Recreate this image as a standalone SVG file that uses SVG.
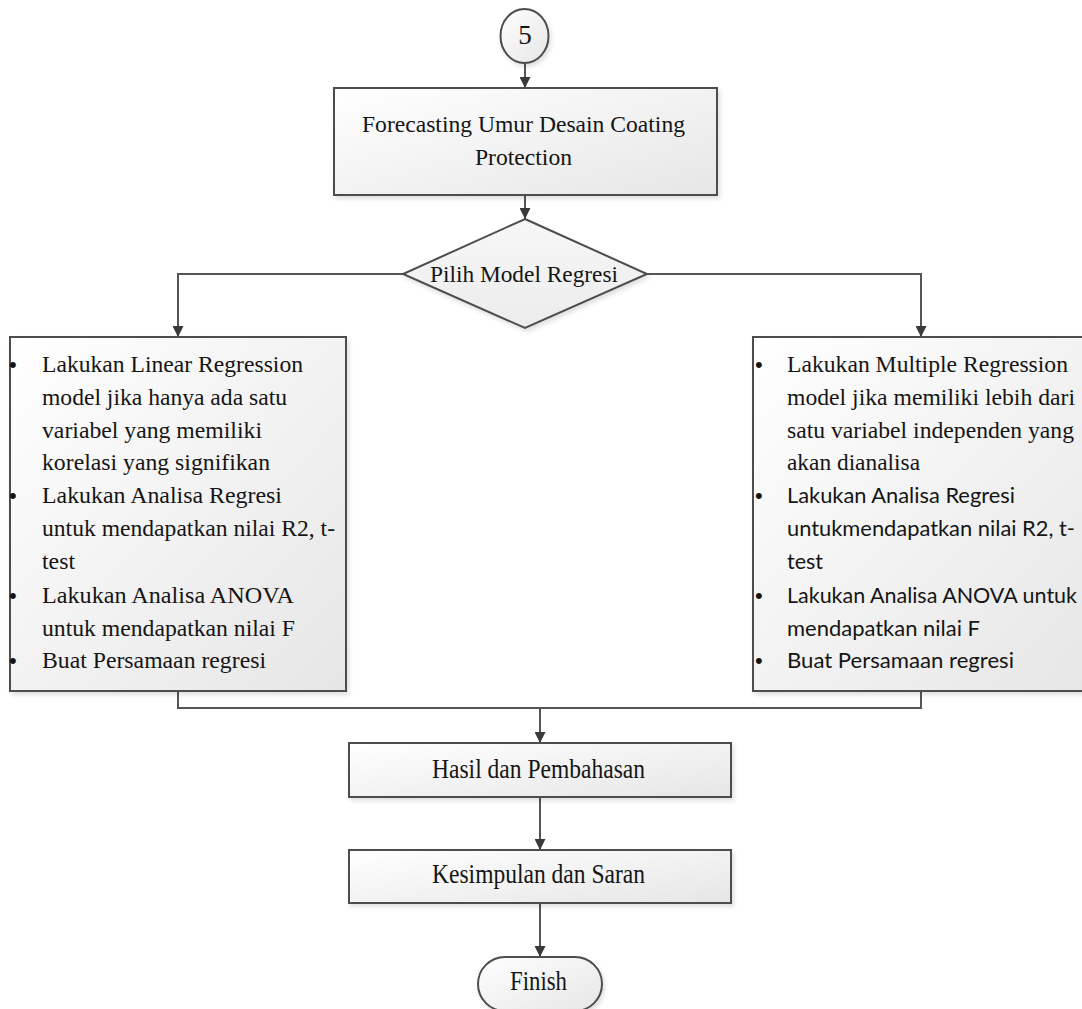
<svg xmlns="http://www.w3.org/2000/svg" width="1082" height="1009" viewBox="0 0 1082 1009">
<style>
.shape{stroke:#4d4d4d;stroke-width:2;fill:url(#g)}
.conn{stroke:#555;stroke-width:2;fill:none}
.tr{font-family:"Liberation Serif","Times New Roman",serif;font-size:24px;fill:#151515}
.big{font-family:"Liberation Serif","Times New Roman",serif;font-size:27px;fill:#151515}
.sans{font-family:Lato,"Open Sans","Liberation Sans",sans-serif;font-size:21px;fill:#151515}
.bul{font-family:"Liberation Sans",Arial,sans-serif;font-size:22px;fill:#151515}
</style>
<defs>
<linearGradient id="g" x1="0" y1="0" x2="1" y2="1">
<stop offset="0" stop-color="#ffffff"/>
<stop offset="1" stop-color="#e6e6e6"/>
</linearGradient>
<linearGradient id="gd" x1="0" y1="0" x2="0" y2="1">
<stop offset="0" stop-color="#f7f7f7"/>
<stop offset="1" stop-color="#ececec"/>
</linearGradient>
<filter id="sh" x="-10%" y="-10%" width="130%" height="130%">
<feDropShadow dx="2" dy="3" stdDeviation="2" flood-color="#000" flood-opacity="0.12"/>
</filter>
<marker id="arr" viewBox="0 0 10 10" refX="10" refY="5" markerWidth="11" markerHeight="11" markerUnits="userSpaceOnUse" orient="auto">
<path d="M0,0 L10,5 L0,10 z" fill="#3a3a3a"/>
</marker>
</defs>

<g id="connectors">
<line class="conn" x1="525" y1="63" x2="525" y2="88" marker-end="url(#arr)"/>
<line class="conn" x1="525" y1="195" x2="525" y2="219" marker-end="url(#arr)"/>
<polyline class="conn" points="403,274 178,274 178,337" marker-end="url(#arr)"/>
<polyline class="conn" points="647,274 921,274 921,337" marker-end="url(#arr)"/>
<polyline class="conn" points="178,691 178,708 921,708 921,691"/>
<line class="conn" x1="540" y1="708" x2="540" y2="743" marker-end="url(#arr)"/>
<line class="conn" x1="540" y1="797" x2="540" y2="850" marker-end="url(#arr)"/>
<line class="conn" x1="540" y1="903" x2="540" y2="957" marker-end="url(#arr)"/>
</g>

<g id="node-start">
<ellipse class="shape" cx="524.5" cy="36" rx="24" ry="27" filter="url(#sh)"/>
<text class="big" x="525" y="44" text-anchor="middle">5</text>
</g>

<g id="node-forecasting">
<rect class="shape" x="334" y="88" width="383" height="107" filter="url(#sh)"/>
<text class="tr" x="362" y="132" textLength="323" lengthAdjust="spacingAndGlyphs">Forecasting Umur Desain Coating</text>
<text class="tr" x="475" y="165" textLength="97" lengthAdjust="spacingAndGlyphs">Protection</text>
</g>

<g id="node-decision">
<polygon points="525,219 647,274 525,328 403,274" stroke="#4d4d4d" stroke-width="2" fill="url(#gd)" filter="url(#sh)"/>
<text class="tr" x="430" y="282" textLength="188" lengthAdjust="spacingAndGlyphs">Pilih Model Regresi</text>
</g>

<g id="node-linear">
<rect class="shape" x="10" y="337" width="336" height="354" filter="url(#sh)"/>
<text class="bul" x="9" y="372">•</text>
<text class="tr" x="42" y="372" textLength="261" lengthAdjust="spacingAndGlyphs">Lakukan Linear Regression</text>
<text class="tr" x="42" y="405" textLength="245" lengthAdjust="spacingAndGlyphs">model jika hanya ada satu</text>
<text class="tr" x="42" y="438" textLength="220" lengthAdjust="spacingAndGlyphs">variabel yang memiliki</text>
<text class="tr" x="42" y="470" textLength="228" lengthAdjust="spacingAndGlyphs">korelasi yang signifikan</text>
<text class="bul" x="9" y="503">•</text>
<text class="tr" x="42" y="503" textLength="240" lengthAdjust="spacingAndGlyphs">Lakukan Analisa Regresi</text>
<text class="tr" x="42" y="536" textLength="293" lengthAdjust="spacingAndGlyphs">untuk mendapatkan nilai R2, t-</text>
<text class="tr" x="42" y="569" textLength="33" lengthAdjust="spacingAndGlyphs">test</text>
<text class="bul" x="9" y="603">•</text>
<text class="tr" x="42" y="603" textLength="252" lengthAdjust="spacingAndGlyphs">Lakukan Analisa ANOVA</text>
<text class="tr" x="42" y="636" textLength="253" lengthAdjust="spacingAndGlyphs">untuk mendapatkan nilai F</text>
<text class="bul" x="9" y="668">•</text>
<text class="tr" x="42" y="668" textLength="224" lengthAdjust="spacingAndGlyphs">Buat Persamaan regresi</text>
</g>

<g id="node-multiple">
<rect class="shape" x="753" y="337" width="340" height="354" filter="url(#sh)"/>
<text class="bul" x="755" y="372">•</text>
<text class="tr" x="787" y="372" textLength="281" lengthAdjust="spacingAndGlyphs">Lakukan Multiple Regression</text>
<text class="tr" x="787" y="405" textLength="288" lengthAdjust="spacingAndGlyphs">model jika memiliki lebih dari</text>
<text class="tr" x="787" y="438" textLength="287" lengthAdjust="spacingAndGlyphs">satu variabel independen yang</text>
<text class="tr" x="787" y="470" textLength="133" lengthAdjust="spacingAndGlyphs">akan dianalisa</text>
<text class="bul" x="755" y="503">•</text>
<text class="sans" x="787" y="503" textLength="228" lengthAdjust="spacingAndGlyphs">Lakukan Analisa Regresi</text>
<text class="sans" x="787" y="536" textLength="288" lengthAdjust="spacingAndGlyphs">untukmendapatkan nilai R2, t-</text>
<text class="sans" x="787" y="569" textLength="36" lengthAdjust="spacingAndGlyphs">test</text>
<text class="bul" x="755" y="603">•</text>
<text class="sans" x="787" y="603" textLength="290" lengthAdjust="spacingAndGlyphs">Lakukan Analisa ANOVA untuk</text>
<text class="sans" x="787" y="636" textLength="193" lengthAdjust="spacingAndGlyphs">mendapatkan nilai F</text>
<text class="bul" x="755" y="668">•</text>
<text class="sans" x="787" y="668" textLength="227" lengthAdjust="spacingAndGlyphs">Buat Persamaan regresi</text>
</g>

<g id="node-hasil">
<rect class="shape" x="349" y="743" width="382" height="54" filter="url(#sh)"/>
<text class="big" x="432" y="778" textLength="213" lengthAdjust="spacingAndGlyphs">Hasil dan Pembahasan</text>
</g>

<g id="node-kesimpulan">
<rect class="shape" x="349" y="850" width="382" height="53" filter="url(#sh)"/>
<text class="big" x="432" y="883" textLength="213" lengthAdjust="spacingAndGlyphs">Kesimpulan dan Saran</text>
</g>

<g id="node-finish">
<rect class="shape" x="478" y="957" width="124" height="54" rx="27" ry="27" filter="url(#sh)"/>
<text class="big" x="510" y="990" textLength="57" lengthAdjust="spacingAndGlyphs">Finish</text>
</g>
</svg>
